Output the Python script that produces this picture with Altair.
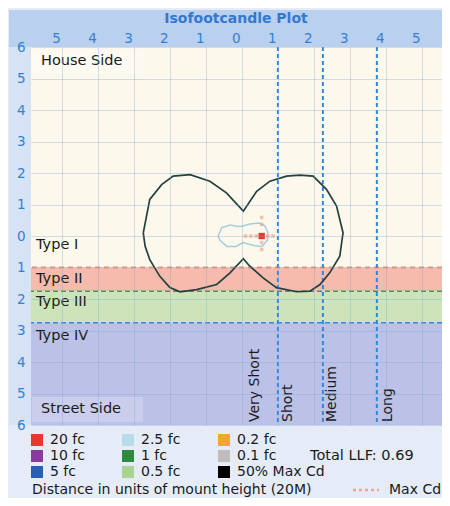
import altair as alt
import pandas as pd

# ---------------- data ----------------
# outer contour (50% Max Cd), in mount heights
outer_x = [-2.74, -2.56, -2.23, -1.91, -1.44, -0.89, -0.43, 0.04, 0.41, 0.78, 1.24, 1.61, 1.98, 2.35,
           2.63, 2.81, 2.72, 2.44, 2.17, 1.89, 1.52, 0.96, 0.59, 0.22, 0.04, -0.33, -0.70, -1.26,
           -1.72, -2.00, -2.28, -2.56, -2.69, -2.74]
outer_y = [0.10, 1.16, 1.63, 1.90, 1.95, 1.74, 1.37, 0.79, 1.42, 1.74, 1.90, 1.93, 1.90, 1.48,
           0.95, 0.10, -0.64, -1.17, -1.54, -1.75, -1.77, -1.64, -1.33, -0.96, -0.72, -1.17, -1.54, -1.70,
           -1.77, -1.64, -1.28, -0.75, -0.32, 0.10]
# inner contour (2.5 fc)
inner_x = [-0.66, -0.56, -0.33, -0.11, 0.03, 0.22, 0.47, 0.64, 0.72, 0.71, 0.56, 0.33, 0.03, -0.17,
           -0.42, -0.61, -0.66]
inner_y = [-0.01, 0.27, 0.35, 0.30, 0.32, 0.38, 0.41, 0.32, 0.11, -0.13, -0.33, -0.30, -0.21, -0.33,
           -0.33, -0.14, -0.01]
# maximum point and faint max-cd dots
max_x, max_y = [0.55], [0.0]
dot_x = [0.10, 0.25, 0.40, 0.72, 0.86, 0.55, 0.55, 0.55, 0.55]
dot_y = [0.0, 0.0, 0.0, 0.0, 0.0, 0.59, 0.37, -0.21, -0.43]

# lateral type bands
band_names = ["Type I", "Type II", "Type III", "Type IV"]
band_top = [6.0, -1.0, -1.75, -2.75]
band_bottom = [-1.0, -1.75, -2.75, -6.0]
band_colors = ["#fdf8ec", "#f6bbac", "#cde4bb", "#bcc1e7"]
band_label_y = [-0.27, -1.38, -2.08, -3.16]

# longitudinal classification lines
long_lines = [1.0, 2.25, 3.75]
long_names = ["Very Short", "Short", "Medium", "Long"]
long_label_x = [0.36, 1.28, 2.50, 4.06]

# legend
levels = ["20 fc", "10 fc", "5 fc", "2.5 fc", "1 fc", "0.5 fc", "0.2 fc", "0.1 fc", "50% Max Cd"]
level_colors = ["#e8392c", "#8b3a9e", "#2a5db5", "#b6dde8", "#2e8a40", "#aad494", "#f4a62a", "#bdbdbd", "#000000"]

x_ticks = list(range(-5, 6))
y_ticks = list(range(-6, 7))

W, H = 411, 378
FONT = "DejaVu Sans"
AX_BLUE = "#3380d4"
TXT = "#1a1a1a"

xscale = alt.Scale(domain=[-5.86, 5.56], nice=False, zero=False)
yscale = alt.Scale(domain=[-6, 6], nice=False, zero=False)
xaxis = alt.Axis(orient="top", values=x_ticks, labelExpr="abs(datum.value)", grid=True, ticks=False,
                 domain=False, title=None, labelColor=AX_BLUE, labelFont=FONT, labelFontSize=13.5,
                 labelPadding=2, labelOffset=-6, labelFlush=False, gridColor="#7fa6d6", gridOpacity=0.35,
                 zindex=1)
yaxis = alt.Axis(orient="left", values=y_ticks, labelExpr="abs(datum.value)", grid=True, ticks=False,
                 domain=False, title=None, labelColor=AX_BLUE, labelFont=FONT, labelFontSize=13.5,
                 labelPadding=6, labelFlush=False, gridColor="#7fa6d6", gridOpacity=0.35, zindex=1)


def X(f):
    return alt.X(f, type="quantitative", scale=xscale, axis=xaxis)


def Y(f):
    return alt.Y(f, type="quantitative", scale=yscale, axis=yaxis)


# ---------------- frame decorations ----------------
frame = pd.DataFrame({"k": [0]})
title_band = alt.Chart(frame).mark_rect(color="#b9d0ee").encode(
    x=alt.value(-22), x2=alt.value(W), y=alt.value(-37), y2=alt.value(0))
left_strip = alt.Chart(frame).mark_rect(color="#d5e3f5").encode(
    x=alt.value(-22), x2=alt.value(0), y=alt.value(0), y2=alt.value(H))
title = alt.Chart(frame).mark_text(text="Isofootcandle Plot", font=FONT, fontSize=14, fontWeight="bold",
                                   color="#3479cf").encode(x=alt.value(205), y=alt.value(-28))

bands = pd.DataFrame({"name": band_names, "y1": band_top, "y2": band_bottom, "c": band_colors})
band_layer = alt.Chart(bands).mark_rect().encode(
    x=alt.value(0), x2=alt.value(W), y=Y("y1"), y2="y2",
    color=alt.Color("c:N", scale=None))

# side label boxes
side_box = alt.Chart(frame).mark_rect(color="#ffffff", opacity=0.3).encode(
    x=alt.value(1), x2=alt.value(112), y=alt.value(3), y2=alt.value(27))
side_box2 = alt.Chart(frame).mark_rect(color="#ffffff", opacity=0.22).encode(
    x=alt.value(1), x2=alt.value(112), y=alt.value(350), y2=alt.value(375))
house = alt.Chart(frame).mark_text(text="House Side", font=FONT, fontSize=14.5, color=TXT,
                                   align="left").encode(x=alt.value(10), y=alt.value(14))
street = alt.Chart(frame).mark_text(text="Street Side", font=FONT, fontSize=14.5, color=TXT,
                                    align="left").encode(x=alt.value(10), y=alt.value(362))

type_df = pd.DataFrame({"name": band_names, "ly": band_label_y})
type_text = alt.Chart(type_df).mark_text(font=FONT, fontSize=14.5, color=TXT, align="left").encode(
    x=alt.value(5), y=Y("ly"), text="name:N")

# horizontal boundary lines
hl_red = alt.Chart(pd.DataFrame({"y": [band_top[1]]})).mark_rule(
    color="#f09078", strokeWidth=2, strokeDash=[5, 4]).encode(y=Y("y"))
hl_green = alt.Chart(pd.DataFrame({"y": [band_top[2]]})).mark_rule(
    color="#3c9a63", strokeWidth=1.5, strokeDash=[5, 3]).encode(y=Y("y"))
hl_blue = alt.Chart(pd.DataFrame({"y": [band_top[3]]})).mark_rule(
    color="#3a8ad8", strokeWidth=1.5, strokeDash=[5, 3]).encode(y=Y("y"))

# vertical classification lines
vl = alt.Chart(pd.DataFrame({"x": long_lines})).mark_rule(
    color="#2b8ae0", strokeWidth=2, strokeDash=[4, 3]).encode(x=X("x"))
long_df = pd.DataFrame({"name": long_names, "lx": long_label_x})
long_text = alt.Chart(long_df).mark_text(font=FONT, fontSize=14, color=TXT, angle=270,
                                         align="left", baseline="middle").encode(
    x=X("lx"), y=alt.value(H - 3), text="name:N")

# contours
outer = pd.DataFrame({"x": outer_x, "y": outer_y, "i": range(len(outer_x))})
inner = pd.DataFrame({"x": inner_x, "y": inner_y, "i": range(len(inner_x))})
outer_line = alt.Chart(outer).mark_line(color="#21403f", strokeWidth=1.7).encode(
    x=X("x"), y=Y("y"), order="i:Q")
inner_line = alt.Chart(inner).mark_line(color="#a3d0da", strokeWidth=1.5).encode(
    x=X("x"), y=Y("y"), order="i:Q")

dots = alt.Chart(pd.DataFrame({"x": dot_x, "y": dot_y})).mark_square(
    size=12, color="#f29a86", opacity=0.6).encode(x=X("x"), y=Y("y"))

legend = alt.Legend(orient="none", legendX=-1, legendY=386, columns=3, symbolType="square",
                    symbolSize=144, symbolStrokeWidth=0, labelFont=FONT, labelFontSize=14,
                    labelColor=TXT, columnPadding=36, rowPadding=2, labelOffset=6, title=None)
maxpt = alt.Chart(pd.DataFrame({"x": max_x, "y": max_y, "level": ["20 fc"]})).mark_square(
    size=40, opacity=1).encode(
    x=X("x"), y=Y("y"),
    fill=alt.Fill("level:N", scale=alt.Scale(domain=levels, range=level_colors), legend=legend))

llf = alt.Chart(frame).mark_text(text="Total LLF: 0.69", font=FONT, fontSize=14.5, color=TXT,
                                 align="left").encode(x=alt.value(279), y=alt.value(409))
dist = alt.Chart(frame).mark_text(text="Distance in units of mount height (20M)", font=FONT, fontSize=14,
                                  color=TXT, align="left").encode(x=alt.value(1), y=alt.value(443))
maxcd_line = alt.Chart(frame).mark_rule(color="#f2a48e", strokeWidth=2.5, strokeDash=[3, 3]).encode(
    x=alt.value(322), x2=alt.value(348), y=alt.value(443))
maxcd = alt.Chart(frame).mark_text(text="Max Cd", font=FONT, fontSize=14, color=TXT,
                                   align="left").encode(x=alt.value(358), y=alt.value(443))

chart = alt.layer(
    title_band, left_strip, band_layer, side_box, side_box2, house, street, type_text,
    hl_red, hl_green, hl_blue, vl, long_text, outer_line, inner_line, dots, maxpt,
    title, llf, dist, maxcd_line, maxcd
).properties(
    width=W, height=H,
    autosize=alt.AutoSizeParams(type="none"),
    padding={"left": 23, "top": 39, "right": 0, "bottom": 73},
    background="#e5ecf7",
).configure_view(strokeWidth=0)

chart.save("out.html", embed_options={"renderer": "svg", "actions": False})
